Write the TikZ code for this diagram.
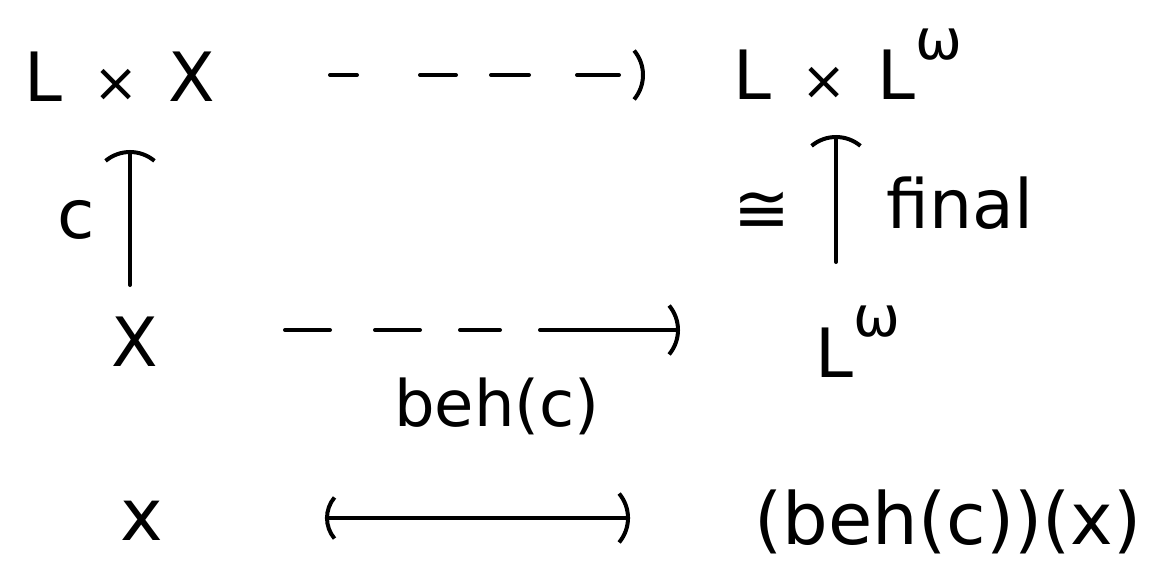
\documentclass[tikz,border=0pt]{standalone}
\usepackage{fontspec}
\setmainfont{DejaVu Sans}
\usetikzlibrary{arrows.meta}
\newcommand{\sw}{\raisebox{0.6em}{\fontsize{56}{58}\selectfont ω}}
\newcommand{\tm}{\hspace{0.45em}{\fontsize{54}{58}\selectfont ×}\hspace{0.45em}}
\begin{document}
\begin{tikzpicture}[x=1pt,y=-1pt,
  lab/.style={inner sep=0pt, anchor=base, font=\fontsize{68}{80}\selectfont},
  small/.style={inner sep=0pt, anchor=base, font=\fontsize{64}{76}\selectfont},
  big/.style={inner sep=0pt, anchor=base, font=\fontsize{72}{86}\selectfont},
  tipbig/.tip={Arc Barb[arc=80, length=40pt, width=80pt, line width=4pt]},
  tipsmall/.tip={Arc Barb[arc=80, length=34pt, width=68pt, line width=4pt]},
  arr/.style={line width=4pt, line cap=round, -tipbig},
  dasharr/.style={arr},
  maparr/.style={line width=4.5pt, line cap=round, tipsmall-tipbig},
]
\useasboundingbox (0,0) rectangle (1153,583);
% objects
\node[lab] (LX)  at (120,102) {L\tm X};
\node[lab] (LLw) at (848,100) {L\tm L\sw};
\node[lab] (X)   at (135,366) {X};
\node[lab] (Lw)  at (858,377) {L\sw};
\node[big] (x)   at (142,540) {x};
\node[big] (bx)  at (948,544) {(beh(c))(x)};
% arrows
\draw[dasharr, dash pattern=on 27pt off 63pt on 36pt off 35pt on 38pt off 48pt on 42pt off 200pt,
      shorten <=210pt, shorten >=203pt] ([yshift=27pt]LX.base) -- ([yshift=25pt]LLw.base);
\draw[arr, shorten <=81pt, shorten >=48pt] ([xshift=-5pt]X.base) -- ([xshift=10pt]LX.base);
\draw[arr, shorten <=115pt, shorten >=35pt] ([xshift=-22pt]Lw.base) -- ([xshift=-12pt]LLw.base);
\draw[dasharr, dash pattern=on 45pt off 45pt on 45pt off 40pt on 40pt off 40pt on 300pt,
      shorten <=150pt, shorten >=178pt] ([yshift=36pt]X.base) -- ([yshift=47pt]Lw.base);
\draw[maparr, shorten <=183pt, shorten >=318pt] ([yshift=22pt]x.base) -- ([yshift=26pt]bx.base);
% labels
\node[lab] (lc) at (76,238) {c};
\node[lab] (liso) at (762,232) {≅};
\node[lab] (lfin) at (960,228) {final};
\node[small] (lbeh) at (497,426) {beh(c)};
\end{tikzpicture}
\end{document}
